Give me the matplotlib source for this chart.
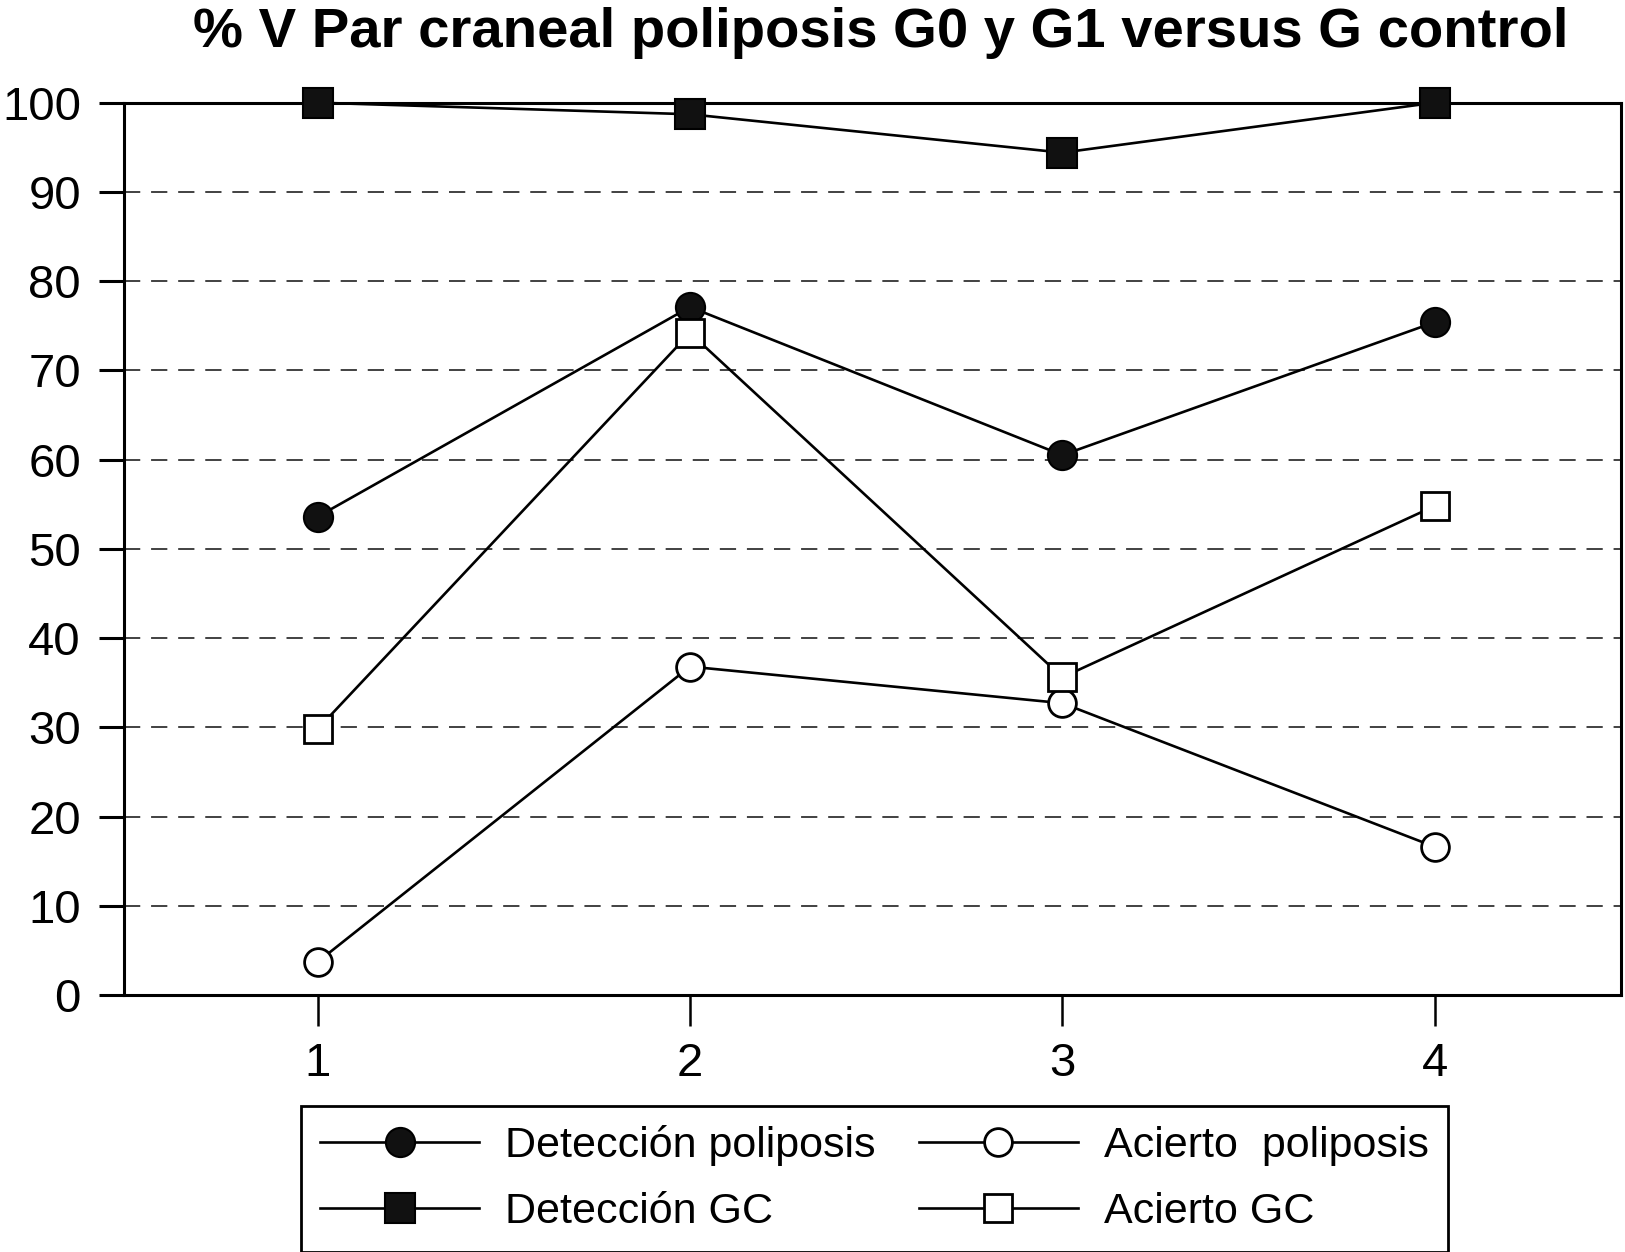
import numpy as np
import matplotlib.pyplot as plt

plt.rcParams['font.family'] = 'Liberation Sans'

# data
x = [1, 2, 3, 4]
deteccion_poliposis = [53.6, 77.1, 60.5, 75.4]
deteccion_gc = [100.0, 98.7, 94.4, 100.0]
acierto_poliposis = [3.7, 36.8, 32.7, 16.6]
acierto_gc = [29.8, 74.2, 35.6, 54.8]
yticks = list(range(0, 101, 10))

fig = plt.figure(figsize=(16.25, 12.52), dpi=100)
ax = fig.add_axes([0.0763, 0.2053, 0.9212, 0.7127])

lw = 1.9
l1, = ax.plot(x, deteccion_poliposis, color='k', lw=lw, marker='o', ms=21,
              mfc='#111111', mec='k', mew=1.5, label='Detección poliposis', clip_on=False, zorder=4)
l2, = ax.plot(x, deteccion_gc, color='k', lw=lw, marker='s', ms=21,
              mfc='#111111', mec='k', mew=1.5, label='Detección GC', clip_on=False, zorder=4)
l3, = ax.plot(x, acierto_poliposis, color='k', lw=lw, marker='o', ms=20,
              mfc='white', mec='k', mew=2.0, label='Acierto  poliposis', clip_on=False, zorder=4)
l4, = ax.plot(x, acierto_gc, color='k', lw=lw, marker='s', ms=20,
              mfc='white', mec='k', mew=2.0, label='Acierto GC', clip_on=False, zorder=4)

ax.set_xlim(0.48, 4.5)
ax.set_ylim(0, 100)
ax.set_xticks(x)
ax.set_yticks(yticks)
for yv in yticks[1:-1]:
    ax.axhline(yv, color='#333333', lw=1.3, ls=(0, (9, 6)), zorder=1)

for s in ax.spines.values():
    s.set_linewidth(2.2)
ax.tick_params(axis='y', direction='out', length=18, width=2.2, labelsize=34, pad=13)
ax.tick_params(axis='x', direction='out', length=22, width=1.8, labelsize=34, pad=12)

fig.suptitle('% V Par craneal poliposis G0 y G1 versus G control',
             x=0.542, y=0.974, fontsize=40.5, fontweight='bold', va='center')

leg = fig.legend([l1, l2, l3, l4],
                 ['Detección poliposis', 'Detección GC', 'Acierto  poliposis', 'Acierto GC'],
                 ncol=2, loc='center', bbox_to_anchor=(0.538, 0.0585), fontsize=31,
                 handlelength=3.7, handletextpad=0.6, columnspacing=1.0,
                 labelspacing=0.6, borderpad=0.45, fancybox=False, edgecolor='k',
                 framealpha=1)
leg.get_frame().set_linewidth(2.0)

fig.savefig('out.png', dpi=100)
